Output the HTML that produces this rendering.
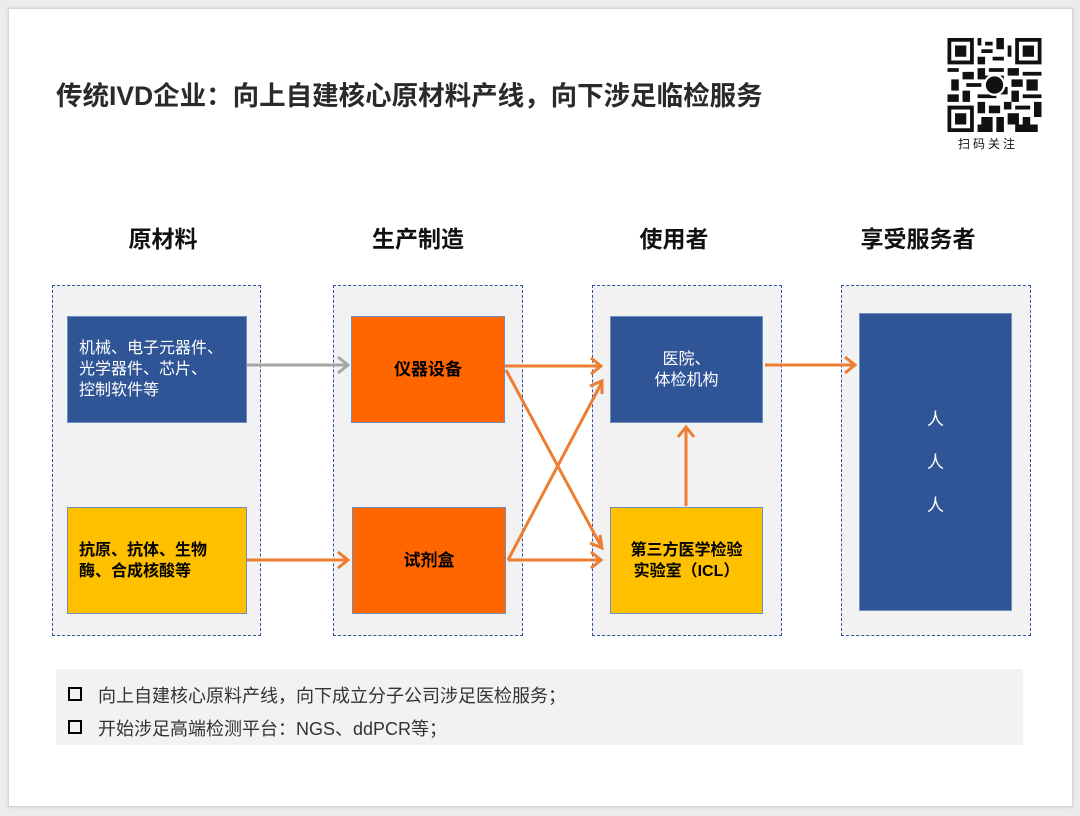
<!DOCTYPE html>
<html><head><meta charset="utf-8"><style>
body{margin:0;width:1080px;height:816px;background:#ececec;position:relative;overflow:hidden;font-family:"Liberation Sans","Noto Sans CJK SC",sans-serif}
.card{position:absolute;left:8px;top:8px;width:1063px;height:797px;background:#fff;border:1px solid #d6d6d6;box-shadow:0 0 3px #ccc}
.a{position:absolute}
.title{left:56px;top:74px;font-size:26.5px;font-weight:bold;color:#2a2a2a;letter-spacing:0}
.hd{top:220px;font-size:23px;font-weight:bold;color:#111;width:190px;text-align:center}
.col{top:285px;height:351px;background:#f2f2f2;border:1.5px dashed #2f55a0;box-sizing:border-box}
.box{display:flex;align-items:center;box-sizing:border-box;border:1.5px solid #6f8fbf;font-size:16px;line-height:21px}
.blue{background:#2f5597;color:#fff}
.yel{background:#ffc000;color:#000;font-weight:bold}
.org{background:#ff6600;color:#000;font-weight:bold;justify-content:center;font-size:17px}
.note{left:56px;top:669px;width:967px;height:76px;background:#f2f2f2}
.li{position:absolute;left:12px;font-size:18px;color:#333}
.li span{display:inline-block;width:10px;height:10px;border:2.5px solid #000;margin-right:16px;vertical-align:1px}
</style></head><body>
<div class="card"></div>
<div class="a title">传统IVD企业：向上自建核心原材料产线，向下涉足临检服务</div>
<svg class="a" style="left:947px;top:38px" width="95" height="94" viewBox="0 0 25 25">
<rect width="25" height="25" fill="#fff"/>
<g fill="#111">
<path d="M0 0h7v7h-7zM18 0h7v7h-7zM0 18h7v7h-7z"/>
</g>
<g fill="#fff"><path d="M1 1h5v5h-5zM19 1h5v5h-5zM1 19h5v5h-5z"/></g>
<g fill="#111"><path d="M2 2h3v3h-3zM20 2h3v3h-3zM2 20h3v3h-3z"/>
<path d="M8 0h1v2h-1zM10 1h2v1h-2zM13 0h2v3h-2zM9 3h3v1h-3zM16 2h1v3h-1zM8 5h2v2h-2zM12 5h3v1h-3zM0 8h3v1h-3zM4 9h3v2h-3zM8 8h2v3h-2zM11 8h4v1h-4zM16 8h3v2h-3zM20 9h5v1h-5zM1 11h2v3h-2zM5 12h4v1h-4zM10 10h2v4h-2zM14 10h1v3h-1zM17 11h3v2h-3zM21 11h3v3h-3zM0 15h3v2h-3zM4 14h2v3h-2zM8 15h5v1h-5zM13 13h3v2h-3zM17 14h2v3h-2zM20 15h5v1h-5zM8 17h2v3h-2zM11 18h3v2h-3zM15 17h2v2h-2zM18 18h4v1h-4zM23 17h2v4h-2zM9 21h3v2h-3zM13 21h2v4h-2zM16 20h3v3h-3zM20 21h2v2h-2zM8 23h4v2h-4zM18 23h6v2h-6z"/></g>
<circle cx="12.5" cy="12.5" r="2.6" fill="#111" stroke="#fff" stroke-width=".6"/>
</svg>
<div class="a" style="left:958px;top:135px;font-size:12px;letter-spacing:3px;color:#111">扫码关注</div>

<div class="a hd" style="left:68px">原材料</div>
<div class="a hd" style="left:323px">生产制造</div>
<div class="a hd" style="left:579px">使用者</div>
<div class="a hd" style="left:823px">享受服务者</div>

<div class="a col" style="left:52px;width:209px"></div>
<div class="a col" style="left:333px;width:190px"></div>
<div class="a col" style="left:592px;width:190px"></div>
<div class="a col" style="left:841px;width:190px"></div>

<div class="a box blue" style="left:67px;top:316px;width:180px;height:107px;padding-left:11px">机械、电子元器件、<br>光学器件、芯片、<br>控制软件等</div>
<div class="a box yel" style="left:67px;top:507px;width:180px;height:107px;padding-left:11px">抗原、抗体、生物<br>酶、合成核酸等</div>
<div class="a box org" style="left:351px;top:316px;width:154px;height:107px">仪器设备</div>
<div class="a box org" style="left:352px;top:507px;width:154px;height:107px">试剂盒</div>
<div class="a box blue" style="left:610px;top:316px;width:153px;height:107px;justify-content:center;text-align:center">医院、<br>体检机构</div>
<div class="a box yel" style="left:610px;top:507px;width:153px;height:107px;justify-content:center;text-align:center">第三方医学检验<br>实验室（ICL）</div>
<div class="a box blue" style="left:859px;top:313px;width:153px;height:298px;justify-content:center;text-align:center;font-size:17px;line-height:43px">人<br>人<br>人</div>

<svg class="a" style="left:0;top:0" width="1080" height="816" fill="none" stroke-width="3">
<g stroke="#a6a6a6"><path d="M247 365H348M338 357l10 8-10 8"/></g>
<g stroke="#ed7d31">
<path d="M247 560H348M338 552l10 8-10 8"/>
<path d="M505 366H601M591 358l10 8-10 8"/>
<path d="M506 370L602 548M600 535l2 13-12-5"/>
<path d="M508 560L602 382M590 386l12-5 0 13"/>
<path d="M508 560H601M591 552l10 8-10 8"/>
<path d="M686 506V427M678 437l8-10 8 10"/>
<path d="M765 365H855M845 357l10 8-10 8"/>
</g>
</svg>

<div class="a note">
<div class="li" style="top:13px"><span></span>向上自建核心原料产线，向下成立分子公司涉足医检服务；</div>
<div class="li" style="top:46px"><span></span>开始涉足高端检测平台：NGS、ddPCR等；</div>
</div>
</body></html>
